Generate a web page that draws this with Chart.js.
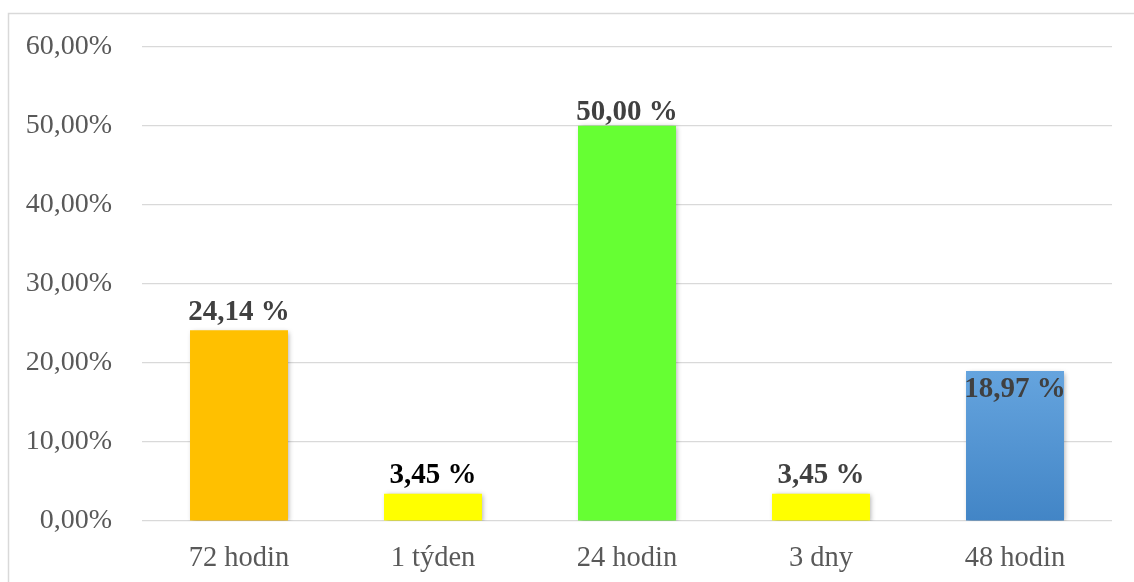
<!DOCTYPE html>
<html>
<head>
<meta charset="utf-8">
<script src="https://cdn.jsdelivr.net/npm/chart.js@4.4.1/dist/chart.umd.min.js"></script>
<style>
  html, body { margin: 0; padding: 0; background: #ffffff; }
  #wrap { width: 1134px; height: 582px; }
</style>
</head>
<body>
<div id="wrap"><canvas id="c" width="1134" height="582"></canvas></div>
<script>
// Response time categories and their shares (%)
const categories = ['72 hodin', '1 týden', '24 hodin', '3 dny', '48 hodin'];
const shares = [24.14, 3.45, 50.00, 3.45, 18.97];
const yTickValues = [0, 10, 20, 30, 40, 50, 60];

// Styling
const barColors = ['#FFC000', '#FFFF00', '#66FF33', '#FFFF00', null];
const labelColors = ['#404040', '#000000', '#404040', '#404040', '#404040'];
// vertical offset of each value label's centre from the bar top (negative = above)
const labelShift = [-18, -18, -13, -18, 18];
const serif = '"Liberation Serif", "Times New Roman", serif';

const fmt = v => v.toFixed(2).replace('.', ',');

const frame = {
  id: 'frame',
  beforeDraw(chart) {
    const ctx = chart.ctx;
    ctx.save();
    ctx.fillStyle = '#ffffff';
    ctx.fillRect(0, 0, chart.width, chart.height);
    ctx.strokeStyle = '#d9d9d9';
    ctx.lineWidth = 1.5;
    ctx.strokeRect(8.5, 13.5, chart.width + 10, chart.height + 10);
    ctx.restore();
  }
};

const barShadow = {
  id: 'barShadow',
  beforeDatasetsDraw(chart) {
    const ctx = chart.ctx;
    ctx.save();
    ctx.shadowColor = 'rgba(0,0,0,0.35)';
    ctx.shadowBlur = 5;
    ctx.shadowOffsetX = 1.5;
    ctx.shadowOffsetY = 1.5;
  },
  afterDatasetsDraw(chart) {
    chart.ctx.restore();
  }
};

const valueLabels = {
  id: 'valueLabels',
  afterDatasetsDraw(chart) {
    const ctx = chart.ctx;
    const meta = chart.getDatasetMeta(0);
    ctx.save();
    ctx.font = 'bold 29px ' + serif;
    ctx.textAlign = 'center';
    ctx.textBaseline = 'middle';
    meta.data.forEach((bar, i) => {
      ctx.fillStyle = labelColors[i];
      ctx.fillText(fmt(shares[i]) + ' %', bar.x, bar.y + labelShift[i]);
    });
    ctx.restore();
  }
};

new Chart(document.getElementById('c'), {
  type: 'bar',
  data: {
    labels: categories,
    datasets: [{
      data: shares,
      backgroundColor(ctx) {
        const c = barColors[ctx.dataIndex];
        if (c) return c;
        const area = ctx.chart.chartArea;
        if (!area) return '#5B9BD5';
        const y = ctx.chart.scales.y;
        const g = ctx.chart.ctx.createLinearGradient(0, y.getPixelForValue(shares[ctx.dataIndex]), 0, area.bottom);
        g.addColorStop(0, '#65A4DE');
        g.addColorStop(1, '#4285C6');
        return g;
      },
      borderWidth: 0,
      barPercentage: 0.505,
      categoryPercentage: 1.0
    }]
  },
  options: {
    responsive: false,
    animation: false,
    devicePixelRatio: 1,
    layout: { padding: { top: 24.2, right: 22, left: 0, bottom: 0 } },
    plugins: {
      legend: { display: false },
      tooltip: { enabled: false }
    },
    scales: {
      x: {
        grid: { display: false, drawTicks: false },
        border: { display: false },
        ticks: {
          color: '#595959',
          font: { family: serif, size: 28.5 },
          padding: 20
        },
        afterFit(scale) { scale.height = 61; }
      },
      y: {
        min: 0,
        max: 60,
        afterBuildTicks(scale) { scale.ticks = yTickValues.map(v => ({ value: v })); },
        grid: { color: '#d9d9d9', lineWidth: 1.2, drawTicks: false },
        border: { display: false },
        ticks: {
          color: '#595959',
          font: { family: serif, size: 28 },
          padding: 30,
          callback: v => fmt(v) + '%'
        },
        afterFit(scale) { scale.width = 142; }
      }
    }
  },
  plugins: [frame, barShadow, valueLabels]
});
</script>
</body>
</html>
